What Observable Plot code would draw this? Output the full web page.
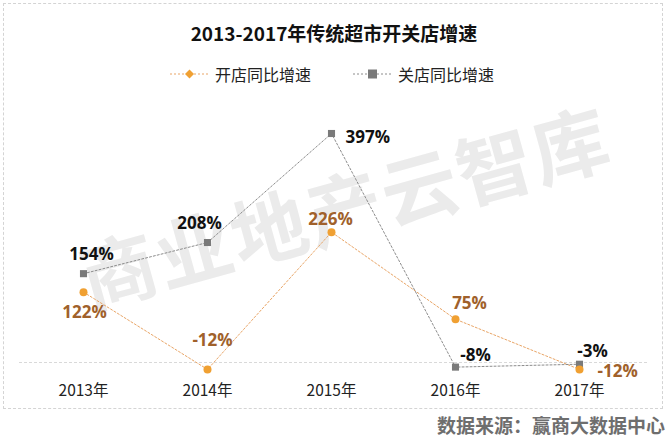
<!DOCTYPE html>
<html>
<head>
<meta charset="utf-8">
<script src="https://cdn.jsdelivr.net/npm/d3@7"></script>
<script src="https://cdn.jsdelivr.net/npm/@observablehq/plot@0.6"></script>
<style>
  html, body { margin: 0; padding: 0; background: #fff; }
  body { width: 668px; height: 437px; position: relative; overflow: hidden; font-family: "Noto Sans CJK SC", "Noto Sans", sans-serif; }
  #frame { position: absolute; left: 3px; top: 3px; width: 660px; height: 406px; border: 1px dashed #d4d4d4; box-sizing: border-box; }
  #title { position: absolute; left: 0; width: 668px; top: 19px; text-align: center; font-size: 19px; font-weight: 700; color: #111; line-height: 28px; }
  #legend { position: absolute; left: 0; width: 668px; top: 62px; display: flex; justify-content: center; gap: 42px; font-size: 16px; color: #222; line-height: 24px; padding-right: 4px; box-sizing: border-box;}
  #legend .item { display: flex; align-items: center; gap: 6px; }
  #watermark { position: absolute; left: 344px; top: 204px; transform: translate(-50%, -50%) rotate(-15.5deg); font-size: 76px; font-weight: 700; color: #ebebeb; white-space: nowrap; letter-spacing: 2px; font-family: "Noto Sans CJK SC", sans-serif; }
  #chart { position: absolute; left: 0; top: 95px; }
  #source { position: absolute; right: 3px; top: 412px; font-size: 19px; font-weight: 700; color: #6e6e6e; line-height: 26px; letter-spacing: 0px; }
</style>
</head>
<body>
<div id="frame"></div>
<div id="watermark">商业地产云智库</div>
<div id="title">2013-2017年传统超市开关店增速</div>
<div id="legend"></div>
<div id="chart"></div>
<div id="source">数据来源：赢商大数据中心</div>
<script>
const years = ["2013年", "2014年", "2015年", "2016年", "2017年"];
const openGrowth = [122, -12, 226, 75, -12];   // 开店同比增速 (%)
const closeGrowth = [154, 208, 397, -8, -3];   // 关店同比增速 (%)
const seriesNames = ["开店同比增速", "关店同比增速"];

const openColor = "#f0a032";
const openLine = "#e9a566";
const openLabel = "#a0612b";
const closeColor = "#7a7a7a";
const closeLine = "#8c8c8c";

const openData = years.map((y, i) => ({year: y, value: openGrowth[i], i}));
const closeData = years.map((y, i) => ({year: y, value: closeGrowth[i], i}));

// label placement offsets (style, kept in code)
const closeOff = [[8, -19, "middle"], [-8, -19, "middle"], [14, 4, "start"], [20, -12, "middle"], [13, -13, "middle"]];
const openOff = [[1, 20, "middle"], [5, -29, "middle"], [-1, -13, "middle"], [14, -16, "middle"], [18, 2, "start"]];

const labelMarks = (data, off, color) => off.map((o, i) => Plot.text([data[i]], {
  x: "year", y: "value", text: d => `${d.value}%`,
  dx: o[0], dy: o[1], textAnchor: o[2],
  fill: color, fontSize: 17, fontWeight: 700, fontFamily: "Open Sans, sans-serif"
}));

const plot = Plot.plot({
  width: 668,
  height: 315,
  marginLeft: 19,
  marginRight: 21,
  marginTop: 0,
  marginBottom: 28,
  style: {background: "transparent", overflow: "visible"},
  x: {type: "point", domain: years, range: [82, 580], padding: 0, label: null},
  y: {domain: [0, 397], range: [267, 38], axis: null},
  marks: [
    Plot.ruleY([0], {stroke: "#d9d9d9", strokeWidth: 1, strokeDasharray: "3,2"}),
    Plot.axisX({tickSize: 0, tickPadding: 2, fontSize: 15.5, fill: "#222", fontFamily: "Noto Sans CJK SC, sans-serif", label: null}),
    Plot.line(openData, {x: "year", y: "value", stroke: openLine, strokeWidth: 1, strokeDasharray: "2,2"}),
    Plot.line(closeData, {x: "year", y: "value", stroke: closeLine, strokeWidth: 1, strokeDasharray: "2,2"}),
    Plot.dot(closeData, {x: "year", y: "value", symbol: "square", r: 4, fill: closeColor}),
    Plot.dot(openData, {x: "year", y: "value", symbol: "circle", r: 4, fill: openColor}),
    ...labelMarks(closeData, closeOff, "#111"),
    ...labelMarks(openData, openOff, openLabel)
  ]
});
document.getElementById("chart").appendChild(plot);

// legend
const legend = document.getElementById("legend");
const swatch = (lineColor, fill, shape) => {
  const marker = shape === "square"
    ? `<rect x="15" y="3.5" width="9" height="9" fill="${fill}"/>`
    : `<path d="M19.5,3.5 L24,8 L19.5,12.5 L15,8 Z" fill="${fill}"/>`;
  return `<svg width="39" height="16"><line x1="0" y1="8" x2="39" y2="8" stroke="${lineColor}" stroke-width="1" stroke-dasharray="2,2"/>${marker}</svg>`;
};
legend.innerHTML =
  `<div class="item">${swatch(openLine, openColor, "diamond")}<span>${seriesNames[0]}</span></div>` +
  `<div class="item">${swatch(closeLine, closeColor, "square")}<span>${seriesNames[1]}</span></div>`;
</script>
</body>
</html>
